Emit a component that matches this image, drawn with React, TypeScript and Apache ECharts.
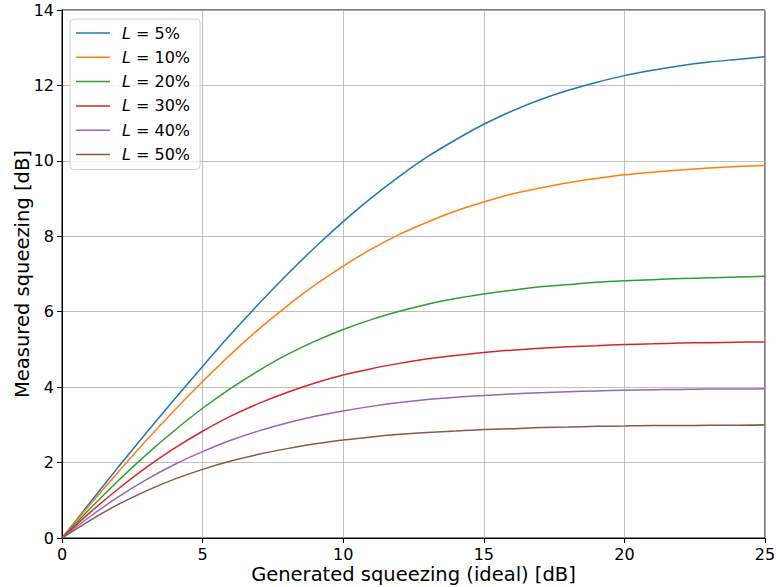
import React, { useEffect, useRef } from "react";
import * as echarts from "echarts";

const generated = [0, 1, 2, 3, 4, 5, 6, 7, 8, 9, 10, 11, 12, 13, 14, 15, 16, 17, 18, 19, 20, 21, 22, 23, 24, 25];

const loss5 = [0, 0.94, 1.88, 2.79, 3.68, 4.55, 5.4, 6.21, 6.98, 7.71, 8.39, 9.02, 9.59, 10.11, 10.56, 10.97, 11.32, 11.62, 11.87, 12.08, 12.26, 12.4, 12.52, 12.62, 12.69, 12.76];
const loss10 = [0, 0.89, 1.75, 2.59, 3.39, 4.15, 4.87, 5.54, 6.15, 6.71, 7.21, 7.66, 8.05, 8.38, 8.67, 8.91, 9.12, 9.28, 9.42, 9.53, 9.63, 9.7, 9.76, 9.81, 9.85, 9.88];
const loss20 = [0, 0.78, 1.52, 2.21, 2.85, 3.44, 3.97, 4.44, 4.86, 5.22, 5.53, 5.79, 6.01, 6.2, 6.35, 6.47, 6.57, 6.66, 6.72, 6.78, 6.82, 6.85, 6.88, 6.9, 6.92, 6.94];
const loss30 = [0, 0.68, 1.3, 1.87, 2.38, 2.83, 3.23, 3.57, 3.86, 4.11, 4.32, 4.49, 4.63, 4.75, 4.84, 4.92, 4.98, 5.03, 5.07, 5.1, 5.13, 5.15, 5.17, 5.18, 5.19, 5.2];
const loss40 = [0, 0.57, 1.09, 1.55, 1.95, 2.29, 2.59, 2.84, 3.05, 3.23, 3.37, 3.49, 3.59, 3.67, 3.73, 3.78, 3.82, 3.85, 3.88, 3.9, 3.92, 3.93, 3.94, 3.95, 3.95, 3.96];
const loss50 = [0, 0.47, 0.89, 1.25, 1.56, 1.82, 2.04, 2.22, 2.37, 2.5, 2.6, 2.68, 2.75, 2.8, 2.84, 2.88, 2.9, 2.93, 2.94, 2.96, 2.97, 2.98, 2.98, 2.99, 2.99, 3.0];

const lossLabels = ["5%", "10%", "20%", "30%", "40%", "50%"];
const lossSeries = [loss5, loss10, loss20, loss30, loss40, loss50];
const colors = ["#1f77b4", "#ff7f0e", "#2ca02c", "#d62728", "#9467bd", "#8c564b"];

const FONT = "DejaVu Sans";

export default function App() {
  const ref = useRef<HTMLDivElement>(null);
  useEffect(() => {
    if (!ref.current) return;
    const chart = echarts.init(ref.current, undefined, { renderer: "svg" });
    const series = lossSeries.map((vals, i) => ({
      name: "L = " + lossLabels[i],
      type: "line",
      data: generated.map((x, j) => [x, vals[j]]),
      smooth: 0.25,
      showSymbol: false,
      symbol: "none",
      lineStyle: { color: colors[i], width: 1.5 },
      itemStyle: { color: colors[i] },
      z: 3,
    }));
    chart.setOption({
      animation: false,
      backgroundColor: "#ffffff",
      textStyle: { fontFamily: FONT },
      grid: {
        left: 62,
        right: 11,
        top: 10,
        bottom: 49,
        outerBoundsMode: "none",
        containLabel: false,
        show: true,
        borderColor: "#000",
        borderWidth: 1,
        backgroundColor: "transparent",
      },
      xAxis: {
        type: "value",
        min: 0,
        max: 25,
        interval: 5,
        name: "Generated squeezing (ideal) [dB]",
        nameLocation: "middle",
        nameGap: 26,
        nameMoveOverlap: false,
        nameTextStyle: { fontSize: 19.5, lineHeight: 20, color: "#000", fontFamily: FONT },
        axisLine: { show: true, lineStyle: { color: "#000", width: 1 } },
        axisTick: { show: true, inside: false, length: 5, lineStyle: { color: "#000" } },
        axisLabel: { fontSize: 16, lineHeight: 14, color: "#000", margin: 9, fontFamily: FONT },
        splitLine: { show: true, lineStyle: { color: "#b0b0b0", width: 0.8 } },
      },
      yAxis: {
        type: "value",
        min: 0,
        max: 14,
        interval: 2,
        name: "Measured squeezing [dB]",
        nameLocation: "middle",
        nameGap: 30,
        nameMoveOverlap: false,
        nameRotate: 90,
        nameTextStyle: { fontSize: 19.5, color: "#000", fontFamily: FONT },
        axisLine: { show: true, lineStyle: { color: "#000", width: 1 } },
        axisTick: { show: true, inside: false, length: 5, lineStyle: { color: "#000" } },
        axisLabel: { fontSize: 16, color: "#000", margin: 8, fontFamily: FONT },
        splitLine: { show: true, lineStyle: { color: "#b0b0b0", width: 0.8 } },
      },
      legend: {
        left: 70,
        top: 19,
        orient: "vertical",
        icon: "rect",
        itemWidth: 34,
        itemHeight: 1.5,
        itemGap: 8.3,
        padding: [6, 10, 7, 6],
        borderColor: "#d0d0d0",
        borderWidth: 1,
        borderRadius: 4,
        backgroundColor: "rgba(255,255,255,0.8)",
        data: lossLabels.map((_, i) => "L = " + lossLabels[i]),
        formatter: (name: string) => "{i|L} = " + name.slice(4),
        textStyle: {
          fontSize: 16,
          color: "#000",
          fontFamily: FONT,
          lineHeight: 16,
          padding: [0, 0, 0, 7],
          rich: {
            i: { fontStyle: "italic", fontSize: 16, fontFamily: FONT, color: "#000" },
          },
        },
      },
      series,
    });
    return () => chart.dispose();
  }, []);
  return (
    <div
      ref={ref}
      style={{ position: "absolute", left: 0, top: 0, width: 776, height: 587 }}
    />
  );
}
